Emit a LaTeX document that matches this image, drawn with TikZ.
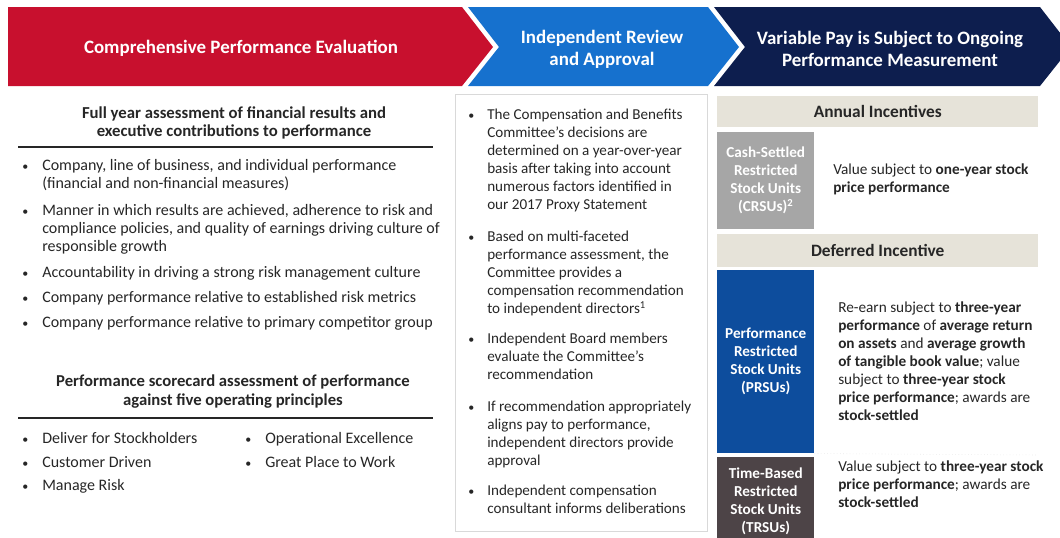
\documentclass[tikz,border=0pt]{standalone}
\usepackage{fontspec}
\setmainfont{Carlito}
\usepackage{tikz}
\usetikzlibrary{positioning}

\definecolor{evalred}{HTML}{C8102E}
\definecolor{reviewblue}{HTML}{1671CE}
\definecolor{paynavy}{HTML}{0D1E4E}
\definecolor{bandbeige}{HTML}{E6E3D9}
\definecolor{crsugrey}{HTML}{A6A6A6}
\definecolor{prsublue}{HTML}{0D4D9D}
\definecolor{trsubrown}{HTML}{4D4447}
\definecolor{bodytext}{HTML}{262626}

\newcommand{\bodyfont}{\fontsize{12}{13.5}\selectfont}
\newcommand{\midfont}{\fontsize{11.35}{13.5}\selectfont}
\newcommand{\headfont}{\fontsize{14.2}{16.5}\selectfont\bfseries}
\newcommand{\subheadfont}{\fontsize{12.55}{13.5}\selectfont\bfseries}
\newcommand{\bandfont}{\fontsize{13}{15}\selectfont\bfseries}
\newcommand{\smalldot}{\strut\raisebox{0.6pt}{\fontsize{9}{9}\selectfont\textbullet}}

\begin{document}
\begin{tikzpicture}[x=0.75pt, y=-0.75pt,
	txt/.style={anchor=north west, align=left, inner sep=0pt, font=\bodyfont, text=bodytext},
	dot/.style={anchor=north west, inner sep=0pt, font=\bodyfont, text=bodytext},
	head/.style={align=center, inner sep=0pt, font=\headfont, text=white},
	unit/.style={rectangle, anchor=north west, inner sep=0pt, align=center, font=\fontsize{11.4}{13.5}\selectfont\bfseries, text=white, minimum width=72.75pt},
	band/.style={rectangle, anchor=north west, fill=bandbeige, inner sep=0pt, font=\bandfont, text=bodytext, minimum width=240.75pt}]

\useasboundingbox (0,0) rectangle (1060,537);

%\draw[step=50, gray, very thin, dotted] (0,0) grid (1060,537);

% chevrons along the top
\fill[evalred] (8,7) -- (462,7) -- (493,47) -- (462,86) -- (8,86) -- cycle;
\fill[reviewblue] (468,7) -- (708,7) -- (739,47) -- (708,86) -- (468,86) -- (499,47) -- cycle;
\fill[paynavy] (714,7) -- (1040,7) -- (1071,47) -- (1040,86) -- (714,86) -- (745,47) -- cycle;

\node at (241,48) [head] (evalhead) {Comprehensive Performance Evaluation};
\node at (602,49) [head] (reviewhead) {Independent Review\\and Approval};
\node at (890,49) [head] (payhead) {Variable Pay is Subject to Ongoing\\Performance Measurement};

% left column: full year assessment
\node at (234,106) [anchor=north, align=center, inner sep=0pt, font=\subheadfont, text=bodytext] (fullyear) {\strut Full year assessment of financial results and\\executive contributions to performance};
\draw[line width=1.1pt, bodytext] (18,147) -- (433,147);

\node at (22,158) [dot] (d1) {\smalldot};
\node at (42,158) [txt] (fy1) {\strut Company, line of business, and individual performance\\(financial and non-financial measures)};
\node at (22,203) [dot] (d2) {\smalldot};
\node at (42,203) [txt] (fy2) {\strut Manner in which results are achieved, adherence to risk and\\compliance policies, and quality of earnings driving culture of\\responsible growth};
\node at (22,265) [dot] (d3) {\smalldot};
\node at (42,265) [txt] (fy3) {\strut Accountability in driving a strong risk management culture};
\node at (22,290) [dot] (d4) {\smalldot};
\node at (42,290) [txt] (fy4) {\strut Company performance relative to established risk metrics};
\node at (22,315) [dot] (d5) {\smalldot};
\node at (42,315) [txt] (fy5) {\strut Company performance relative to primary competitor group};

% left column: scorecard
\node at (233,373) [anchor=north, align=center, inner sep=0pt, font=\fontsize{12.5}{14.25}\selectfont\bfseries, text=bodytext] (scorecard) {\strut Performance scorecard assessment of performance\\against five operating principles};
\draw[line width=1.1pt, bodytext] (18,418) -- (433,418);

\node at (22,431) [dot] (p1) {\smalldot};
\node at (42,431) [txt] (stockholders) {\strut Deliver for Stockholders};
\node at (22,455) [dot] (p2) {\smalldot};
\node at (42,455) [txt] (customer) {\strut Customer Driven};
\node at (22,478) [dot] (p3) {\smalldot};
\node at (42,478) [txt] (risk) {\strut Manage Risk};
\node at (245,431) [dot] (p4) {\smalldot};
\node at (265,431) [txt] (operational) {\strut Operational Excellence};
\node at (245,455) [dot] (p5) {\smalldot};
\node at (265,455) [txt] (workplace) {\strut Great Place to Work};

% middle column: review and approval
\begin{scope}[txt/.append style={font=\midfont}, dot/.append style={font=\midfont}]
\node at (455,94) [rectangle, anchor=north west, draw=gray!30, minimum width=189pt, minimum height=327.75pt] (reviewbox) {};

\node at (468,107) [dot] (r1) {\smalldot};
\node at (487,107) [txt] (committee) {\strut The Compensation and Benefits\\Committee’s decisions are\\determined on a year-over-year\\basis after taking into account\\numerous factors identified in\\our 2017 Proxy Statement};
\node at (468,229) [dot] (r2) {\smalldot};
\node at (487,229) [txt] (assessment) {\strut Based on multi-faceted\\performance assessment, the\\Committee provides a\\compensation recommendation\\to independent directors\textsuperscript{1}};
\node at (468,331) [dot] (r3) {\smalldot};
\node at (487,331) [txt] (board) {\strut Independent Board members\\evaluate the Committee’s\\recommendation};
\node at (468,399) [dot] (r4) {\smalldot};
\node at (487,399) [txt] (approval) {\strut If recommendation appropriately\\aligns pay to performance,\\independent directors provide\\approval};
\node at (468,483) [dot] (r5) {\smalldot};
\node at (487,483) [txt] (consultant) {\strut Independent compensation\\consultant informs deliberations};
\end{scope}

% right column
\begin{scope}[txt/.append style={font=\fontsize{11.45}{13.5}\selectfont}]
% annual incentives
\node at (717,96) [band, minimum height=23.25pt] (annual) {Annual Incentives};
\node at (717,132) [unit, fill=crsugrey, minimum height=72.75pt] (crsu) {Cash-Settled\\Restricted\\Stock Units\\(CRSUs)\textsuperscript{2}};
\node at (833,162) [txt] (crsutext) {\strut Value subject to \textbf{one-year stock}\\\textbf{price performance}};

% deferred incentive
\node at (717,234) [band, minimum height=24.75pt] (deferred) {Deferred Incentive};
\node at (717,270) [unit, fill=prsublue, minimum height=137.25pt] (prsu) {Performance\\Restricted\\Stock Units\\(PRSUs)};
\node at (838,300) [txt] (prsutext) {\strut Re-earn subject to \textbf{three-year}\\\textbf{performance} of \textbf{average return}\\\textbf{on assets} and \textbf{average growth}\\\textbf{of tangible book value}; value\\subject to \textbf{three-year stock}\\\textbf{price performance}; awards are\\\textbf{stock-settled}};
\draw[gray!25, dotted] (prsu.south east) -- (1036,455);
\node at (717,457) [unit, fill=trsubrown, minimum height=66pt] (trsu) {Time-Based\\Restricted\\Stock Units\\(TRSUs)};
\node at (838,459) [txt] (trsutext) {\strut Value subject to \textbf{three-year stock}\\\textbf{price performance}; awards are\\\textbf{stock-settled}};
\end{scope}

\end{tikzpicture}
\end{document}
